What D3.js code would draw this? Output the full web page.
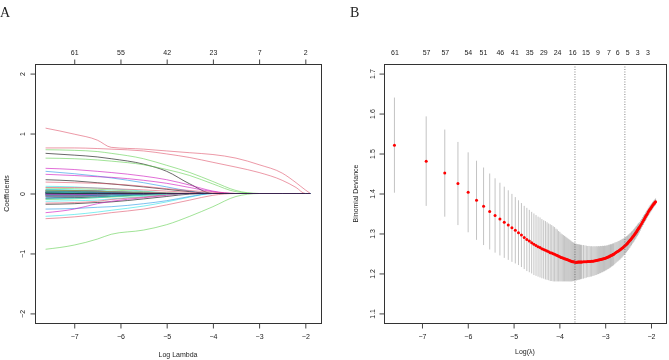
<!DOCTYPE html>
<html>
<head>
<meta charset="utf-8">
<script src="https://cdn.jsdelivr.net/npm/d3@7"></script>
<style>
  html, body { margin: 0; padding: 0; background: #fff; }
  svg { will-change: transform; }
  svg text { font-family: "Liberation Sans", Arial, Helvetica, sans-serif; fill: #222; }
  .panel-tag { font-family: "Liberation Serif", "DejaVu Serif", serif; }
</style>
</head>
<body>
<svg id="chart" width="669" height="360"></svg>
<script>
// ---- panel A: lasso coefficient paths ----
const pathLogLambda = [-7.62, -7.0, -6.5, -6.2, -5.5, -5.0, -4.5, -4.0, -3.5, -3.0, -2.5, -2.2, -2.0, -1.89];

// one row per variable, values on pathLogLambda (a short row means the rest are 0)
const coefPaths = [
  [0.67, 0.64, 0.61, 0.58, 0.49, 0.37, 0.16, 0],
  [1.09, 0.99, 0.89, 0.77, 0.74, 0.71, 0.68, 0.65, 0.59, 0.48, 0.34, 0.18, 0.06, 0],
  [0.73, 0.72, 0.70, 0.67, 0.58, 0.47, 0.35, 0.20, 0.05, 0],
  [0.37, 0.33, 0.29, 0.26, 0.18, 0.11, 0.04, 0],
  [-0.38, -0.35, -0.31, -0.28, -0.21, -0.14, -0.06, 0],
  [0.42, 0.40, 0.37, 0.35, 0.29, 0.23, 0.14, 0.04, 0],
  [0.23, 0.21, 0.18, 0.16, 0.11, 0.07, 0.03, 0],
  [0.76, 0.76, 0.75, 0.74, 0.71, 0.66, 0.60, 0.52, 0.44, 0.35, 0.22, 0.10, 0],
  [-0.93, -0.86, -0.76, -0.68, -0.61, -0.52, -0.38, -0.22, -0.05, 0],
  [-0.26, -0.25, -0.23, -0.22, -0.17, -0.12, -0.05, 0],
  [0.12, 0.11, 0.09, 0.08, 0.04, 0.01, 0],
  [0.32, 0.30, 0.28, 0.27, 0.22, 0.17, 0.10, 0.03, 0],
  [-0.18, -0.17, -0.15, -0.14, -0.09, -0.05, -0.01, 0],
  [0.19, 0.18, 0.17, 0.16, 0.12, 0.08, 0.05, 0.02, 0],
  [0.59, 0.58, 0.56, 0.54, 0.48, 0.40, 0.30, 0.16, 0.03, 0],
  [0.04, 0.04, 0.03, 0.02, 0.01, 0],
  [-0.13, -0.12, -0.11, -0.09, -0.05, -0.02, 0],
  [-0.32, -0.26, -0.17, -0.13, -0.07, -0.03, 0],
  [0.06, 0.05, 0.04, 0.03, 0.01, 0],
  [-0.42, -0.39, -0.35, -0.32, -0.26, -0.19, -0.11, -0.03, 0],
  [0.09, 0.08, 0.07, 0.06, 0.03, 0.01, 0],
  [-0.07, -0.06, -0.05, -0.04, -0.01, 0],
  [-0.05, -0.05, -0.04, -0.03, -0.01, 0],
  [-0.03, -0.03, -0.02, -0.01, 0],
  [-0.08, -0.07, -0.06, -0.05, -0.02, 0],
  [0.10, 0.10, 0.09, 0.08, 0.06, 0.04, 0.02, 0],
  [-0.10, -0.09, -0.07, -0.06, -0.03, -0.01, 0],
  [0.02, 0.02, 0.01, 0.01, 0],
  [0.07, 0.06, 0.05, 0.04, 0.02, 0],
  [0.05, 0.05, 0.04, 0.03, 0.01, 0],
  [0.03, 0.03, 0.02, 0.01, 0],
  [-0.16, -0.15, -0.13, -0.10, -0.06, -0.02, 0],
  [0.03, 0.02, 0.02, 0.01, 0],
  [-0.02, -0.02, -0.01, -0.01, 0],
  [0.01, 0.01, 0.01, 0],
  [-0.01, -0.01, 0],
  [-0.04, -0.04, -0.03, -0.02, -0.01, 0],
  [0.05, 0.05, 0.04, 0.03, 0.02, 0.01, 0],
  [-0.03, -0.03, -0.02, -0.01, 0],
  [0.01, 0.01, 0.005, 0],
  [-0.09, -0.08, -0.07, -0.05, -0.03, -0.01, 0],
  [0.02, 0.02, 0.01, 0.01, 0],
  [0.01, 0.01, 0],
  [-0.05, -0.05, -0.04, -0.02, -0.01, 0],
  [0.05, 0.05, 0.04, 0.03, 0.01, 0],
  [-0.04, -0.04, -0.03, -0.02, -0.01, 0],
  [0.04, 0.03, 0.02, 0.01, 0],
  [0.005, 0.005, 0],
  [-0.01, -0.01, -0.005, 0],
  [0.02, 0.02, 0.01, 0],
  [-0.015, -0.01, 0],
  [0.005, 0.005, 0.005, 0],
  [-0.02, -0.02, -0.01, 0],
  [0.01, 0.01, 0.005, 0],
  [0.02, 0.02, 0.01, 0.005, 0],
  [-0.01, -0.01, 0],
  [0.01, 0.01, 0],
  [-0.01, -0.01, -0.005, 0],
  [0.02, 0.015, 0.01, 0],
  [-0.02, -0.02, -0.01, 0],
  [0.005, 0]
];
const coefXTicks = [-7, -6, -5, -4, -3, -2];
const coefYTicks = [-2, -1, 0, 1, 2];
const coefYLim = [-2, 2];
const coefTopLabels = ["61", "55", "42", "23", "7", "2"];

// ---- panel B: cross-validated binomial deviance ----
const LAMBDA_STEP = 0.0005; // lambda = k * step
const lambdaK = [
  1, 2, 3, 4, 5, 6, 7, 8, 9, 10, 11, 12, 13, 14, 15, 16, 17, 18, 19, 20,
  21, 22, 23, 24, 25, 26, 27, 28, 29, 30, 31, 32, 33, 34, 35, 36, 37, 38, 39, 40,
  41, 42, 43, 44, 45, 46, 47, 48, 49, 50, 51, 52, 53, 54, 55, 56, 57, 58, 59, 60,
  62, 64, 66, 68, 70, 72, 74, 76, 78, 80, 82, 84, 86, 88, 90,
  92, 94, 96, 98, 100, 102, 104, 106, 108, 110, 112, 114, 116, 118, 120,
  123, 126, 129, 132, 135, 138, 141, 144, 147, 150, 153, 156, 159, 162, 165,
  168, 171, 174, 177, 180, 183, 186, 189, 192, 195, 198, 201, 204, 207, 210,
  215, 220, 225, 230, 235, 240, 245, 250, 255, 260, 265, 270, 275, 280, 285, 290, 295, 299
];
const cvMean = [
  1.521, 1.481, 1.451, 1.425, 1.403, 1.383, 1.368, 1.355, 1.345, 1.336, 1.328, 1.321, 1.314, 1.308, 1.302, 1.296, 1.290, 1.285, 1.281,
  1.277, 1.273, 1.270, 1.267, 1.265, 1.262, 1.260, 1.258, 1.256, 1.254, 1.252, 1.251, 1.249, 1.248, 1.246, 1.245, 1.243, 1.242, 1.240, 1.239, 1.238,
  1.237, 1.236, 1.235, 1.234, 1.233, 1.232, 1.231, 1.230, 1.2295, 1.229, 1.2285, 1.2283, 1.2283, 1.2283, 1.2284, 1.2284, 1.2285, 1.2286, 1.2287, 1.2288,
  1.2290, 1.2292, 1.2294, 1.2296, 1.2298, 1.2300, 1.2302, 1.2307, 1.2312, 1.2317, 1.2322, 1.2328, 1.2334, 1.2340, 1.2347,
  1.2354, 1.2361, 1.2368, 1.2375, 1.2382, 1.2391, 1.2400, 1.2410, 1.2420, 1.2430, 1.2440, 1.2450, 1.2461, 1.2472, 1.2483,
  1.2504, 1.2522, 1.2540, 1.2557, 1.2573, 1.2592, 1.2611, 1.2630, 1.2649, 1.2669, 1.2690, 1.2710, 1.2733, 1.2756, 1.2779,
  1.2803, 1.2828, 1.2852, 1.2877, 1.2902, 1.2927, 1.2952, 1.2977, 1.3002, 1.3027, 1.3052, 1.3078, 1.3104, 1.3130, 1.3155,
  1.3200, 1.3245, 1.3289, 1.3333, 1.3377, 1.3418, 1.3457, 1.3496, 1.3535, 1.3573, 1.3606, 1.3637, 1.3668, 1.3697, 1.3725, 1.3752, 1.3777, 1.3796
];
const cvSE = [
  0.119, 0.112, 0.109, 0.104, 0.100, 0.099, 0.097, 0.095, 0.093, 0.091, 0.089, 0.087, 0.085, 0.083, 0.081, 0.080, 0.079, 0.079, 0.078,
  0.077, 0.077, 0.076, 0.075, 0.075, 0.074, 0.073, 0.073, 0.072, 0.071, 0.071, 0.070, 0.069, 0.068, 0.066, 0.065, 0.063, 0.062, 0.060, 0.059, 0.058,
  0.057, 0.056, 0.055, 0.054, 0.053, 0.052, 0.051, 0.050, 0.049, 0.048, 0.047, 0.046, 0.046, 0.045, 0.045, 0.044, 0.044, 0.043, 0.043, 0.042,
  0.042, 0.041, 0.040, 0.039, 0.039, 0.038, 0.038, 0.037, 0.037, 0.036, 0.036, 0.035, 0.035, 0.034, 0.034,
  0.033, 0.033, 0.032, 0.032, 0.031, 0.031, 0.030, 0.030, 0.030, 0.029, 0.029, 0.028, 0.028, 0.028, 0.027,
  0.027, 0.026, 0.025, 0.025, 0.024, 0.024, 0.023, 0.023, 0.022, 0.021, 0.021, 0.020, 0.020, 0.019, 0.019,
  0.018, 0.018, 0.017, 0.017, 0.016, 0.016, 0.016, 0.015, 0.015, 0.015, 0.014, 0.014, 0.014, 0.013, 0.013,
  0.013, 0.012, 0.012, 0.012, 0.011, 0.011, 0.011, 0.010, 0.010, 0.010, 0.010, 0.009, 0.009, 0.009, 0.009, 0.008, 0.008, 0.008
];
const cvXTicks = [-7, -6, -5, -4, -3, -2];
const cvYTicks = [1.1, 1.2, 1.3, 1.4, 1.5, 1.6, 1.7];
const cvYLim = [1.1, 1.7];
const cvTopAt = [-7.60, -6.91, -6.50, -6.00, -5.67, -5.30, -4.98, -4.66, -4.35, -4.05, -3.72, -3.43, -3.17, -2.93, -2.74, -2.52, -2.30, -2.08];
const cvTopLabels = ["61", "57", "57", "54", "51", "46", "41", "35", "29", "24", "16", "15", "9", "7", "6", "5", "3", "3"];
const cvVLines = [-3.66, -2.57]; // lambda.min, lambda.1se

// R's default line colours, cycled like matplot
const PALETTE = ["#000000", "#DF536B", "#61D04F", "#2297E6", "#28E2E5", "#CD0BBC"];
const FONT = 7;

const svg = d3.select("#chart");

// R pads the data range by 4% on each side
function rPad(lo, hi) {
  const d = (hi - lo) * 0.04;
  return [lo - d, hi + d];
}

function drawBox(g, box) {
  g.append("rect")
    .attr("x", box.left + 0.5)
    .attr("y", box.top + 0.5)
    .attr("width", box.right - box.left)
    .attr("height", box.bottom - box.top)
    .attr("fill", "none")
    .attr("stroke", "#333")
    .attr("stroke-width", 1);
}

function styleAxis(sel) {
  sel.select(".domain").remove();
  sel.selectAll(".tick line").attr("stroke", "#444");
  sel.selectAll(".tick text").attr("font-size", FONT).attr("fill", "#222");
}

function rotateLeftLabels(sel, off) {
  sel.selectAll(".tick text")
    .attr("transform", "rotate(-90)")
    .attr("x", 0)
    .attr("y", -off)
    .attr("dy", 0)
    .attr("text-anchor", "middle");
}

const intFmt = d3.format("d");

// ================= Panel A =================
const boxA = { left: 35, right: 321, top: 64, bottom: 323 };
const gA = svg.append("g");

const xA = d3.scaleLinear()
  .domain(rPad(d3.min(pathLogLambda), d3.max(pathLogLambda)))
  .range([boxA.left, boxA.right]);
const yA = d3.scaleLinear()
  .domain(rPad(coefYLim[0], coefYLim[1]))
  .range([boxA.bottom, boxA.top]);

const line = d3.line()
  .x((d, i) => xA(pathLogLambda[i]))
  .y(d => yA(d))
  .curve(d3.curveMonotoneX);

gA.append("g")
  .selectAll("path")
  .data(coefPaths)
  .join("path")
  .attr("d", row => line(pathLogLambda.map((_, i) => (i < row.length ? row[i] : 0))))
  .attr("fill", "none")
  .attr("stroke", (d, i) => PALETTE[i % PALETTE.length])
  .attr("stroke-width", 0.85)
  .attr("stroke-opacity", 0.7);

drawBox(gA, boxA);

gA.append("g")
  .attr("transform", `translate(0,${boxA.bottom + 0.5})`)
  .call(d3.axisBottom(xA).tickValues(coefXTicks).tickSize(5).tickPadding(6).tickFormat(intFmt))
  .call(styleAxis);

gA.append("g")
  .attr("transform", `translate(${boxA.left + 0.5},0)`)
  .call(d3.axisLeft(yA).tickValues(coefYTicks).tickSize(5).tickFormat(intFmt))
  .call(styleAxis)
  .call(s => rotateLeftLabels(s, 10.5));

gA.append("g")
  .attr("transform", `translate(0,${boxA.top + 0.5})`)
  .call(d3.axisTop(xA).tickValues(coefXTicks).tickSize(5).tickPadding(5)
    .tickFormat((d, i) => coefTopLabels[i]))
  .call(styleAxis);

gA.append("text")
  .attr("x", (boxA.left + boxA.right) / 2)
  .attr("y", 357)
  .attr("text-anchor", "middle")
  .attr("font-size", FONT)
  .text("Log Lambda");

gA.append("text")
  .attr("transform", `translate(9,${(boxA.top + boxA.bottom) / 2}) rotate(-90)`)
  .attr("text-anchor", "middle")
  .attr("font-size", FONT)
  .text("Coefficients");

gA.append("text")
  .attr("class", "panel-tag")
  .attr("x", 0)
  .attr("y", 17)
  .attr("font-size", 14)
  .text("A");

// ================= Panel B =================
const boxB = { left: 384, right: 666, top: 64, bottom: 323 };
const gB = svg.append("g");

const cvData = lambdaK.map((k, i) => ({
  logLambda: Math.log(k * LAMBDA_STEP),
  mean: cvMean[i],
  up: cvMean[i] + cvSE[i],
  lo: cvMean[i] - cvSE[i]
}));

const xB = d3.scaleLinear()
  .domain(rPad(d3.min(cvData, d => d.logLambda), d3.max(cvData, d => d.logLambda)))
  .range([boxB.left, boxB.right]);
const yB = d3.scaleLinear()
  .domain(rPad(cvYLim[0], cvYLim[1]))
  .range([boxB.bottom, boxB.top]);

// error bars
gB.append("g")
  .attr("stroke", "#8a8a8a")
  .attr("stroke-opacity", 0.5)
  .attr("stroke-width", 1)
  .selectAll("line")
  .data(cvData)
  .join("line")
  .attr("x1", d => xB(d.logLambda))
  .attr("x2", d => xB(d.logLambda))
  .attr("y1", d => yB(d.up))
  .attr("y2", d => yB(d.lo));

gB.append("g")
  .selectAll("circle")
  .data(cvData)
  .join("circle")
  .attr("cx", d => xB(d.logLambda))
  .attr("cy", d => yB(d.mean))
  .attr("r", 1.5)
  .attr("fill", "#ff0000");

gB.append("g")
  .selectAll("line")
  .data(cvVLines)
  .join("line")
  .attr("x1", d => xB(d))
  .attr("x2", d => xB(d))
  .attr("y1", boxB.top)
  .attr("y2", boxB.bottom)
  .attr("stroke", "#666")
  .attr("stroke-width", 0.8)
  .attr("stroke-dasharray", "1 1.5");

drawBox(gB, boxB);

gB.append("g")
  .attr("transform", `translate(0,${boxB.bottom + 0.5})`)
  .call(d3.axisBottom(xB).tickValues(cvXTicks).tickSize(5).tickPadding(6).tickFormat(intFmt))
  .call(styleAxis);

gB.append("g")
  .attr("transform", `translate(${boxB.left + 0.5},0)`)
  .call(d3.axisLeft(yB).tickValues(cvYTicks).tickSize(5).tickFormat(d3.format(".1f")))
  .call(styleAxis)
  .call(s => rotateLeftLabels(s, 9.5));

gB.append("g")
  .attr("transform", `translate(0,${boxB.top + 0.5})`)
  .call(d3.axisTop(xB).tickValues(cvTopAt).tickSize(0).tickPadding(10)
    .tickFormat((d, i) => cvTopLabels[i]))
  .call(styleAxis);

gB.append("text")
  .attr("x", (boxB.left + boxB.right) / 2)
  .attr("y", 354)
  .attr("text-anchor", "middle")
  .attr("font-size", FONT)
  .text("Log(λ)");

gB.append("text")
  .attr("transform", `translate(358,${(boxB.top + boxB.bottom) / 2}) rotate(-90)`)
  .attr("text-anchor", "middle")
  .attr("font-size", FONT)
  .text("Binomial Deviance");

gB.append("text")
  .attr("class", "panel-tag")
  .attr("x", 350)
  .attr("y", 17)
  .attr("font-size", 14)
  .text("B");
</script>
</body>
</html>
